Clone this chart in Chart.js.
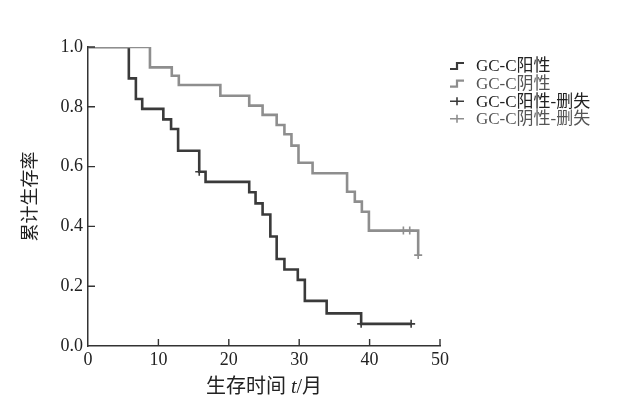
<!DOCTYPE html>
<html><head><meta charset="utf-8">
<script src="https://cdn.jsdelivr.net/npm/chart.js@4"></script>
<style>html,body{margin:0;padding:0;background:#fff}#wrap{width:632px;height:405px;position:relative}</style>
</head><body><div id="wrap"><canvas id="c" width="632" height="405" style="width:632px;height:405px"></canvas></div>
<script>
const positiveTimes    = [0, 5.8, 6.8, 7.7, 10.7, 11.8, 12.8, 15.8, 16.7, 22.9, 23.8, 24.8, 25.9, 26.8, 27.9, 29.8, 30.8, 33.9, 38.8, 45.9];
const positiveSurvival = [1.0, 0.895, 0.826, 0.793, 0.758, 0.726, 0.653, 0.583, 0.549, 0.514, 0.477, 0.44, 0.366, 0.291, 0.256, 0.221, 0.151, 0.109, 0.074, 0.074];
const negativeTimes    = [0, 8.8, 11.9, 12.9, 18.8, 22.9, 24.8, 26.8, 27.9, 28.9, 29.9, 31.9, 36.8, 37.9, 38.9, 39.9, 46.9];
const negativeSurvival = [1.0, 0.932, 0.904, 0.873, 0.837, 0.804, 0.773, 0.739, 0.708, 0.67, 0.613, 0.578, 0.516, 0.483, 0.449, 0.386, 0.304];
const positiveCensorTimes    = [15.8, 38.8, 45.9];
const positiveCensorSurvival = [0.583, 0.074, 0.074];
const negativeCensorTimes    = [44.8, 45.7, 46.9];
const negativeCensorSurvival = [0.386, 0.386, 0.304];
const seriesLabels = ['GC-C阳性', 'GC-C阴性', 'GC-C阳性-删失', 'GC-C阴性-删失'];
const xTickValues = [0, 10, 20, 30, 40, 50];
const yTickValues = [0, 0.2, 0.4, 0.6, 0.8, 1.0];
const yTitle = '累计生存率';
const xTitleParts = ['生存时间 ', 't', '/月'];

const DARK = '#3a3a3a', LIGHT = '#8e8e8e';
const FONT = "'Liberation Serif', 'Noto Sans CJK SC', serif";
const pts = (xs, ys) => xs.map((x, i) => ({x: x, y: ys[i]}));

const innerTicksPlugin = {
  id: 'innerTicks',
  afterDraw(chart) {
    const ctx = chart.ctx, xs = chart.scales.x, ys = chart.scales.y;
    const area = chart.chartArea;
    ctx.save();
    ctx.strokeStyle = '#333';
    ctx.lineWidth = 1.4;
    ctx.beginPath();
    xs.ticks.forEach(t => {
      const px = xs.getPixelForValue(t.value);
      if (t.value === xs.min) return;
      ctx.moveTo(px, area.bottom); ctx.lineTo(px, area.bottom - 7);
    });
    ys.ticks.forEach(t => {
      const py = ys.getPixelForValue(t.value);
      if (t.value === ys.min) return;
      ctx.moveTo(area.left, py); ctx.lineTo(area.left + 7, py);
    });
    ctx.stroke();
    ctx.restore();
  }
};

const legendPlugin = {
  id: 'kmLegend',
  afterDraw(chart) {
    const ctx = chart.ctx;
    const x0 = 450, y0 = 66, dy = 17.6;
    const kinds = ['step', 'step', 'cross', 'cross'];
    const colors = [DARK, LIGHT, DARK, LIGHT];
    ctx.save();
    ctx.font = '17px ' + FONT;
    ctx.textBaseline = 'middle';
    seriesLabels.forEach((lab, i) => {
      const y = y0 + i * dy;
      ctx.strokeStyle = colors[i];
      ctx.lineWidth = 2.2;
      ctx.beginPath();
      if (kinds[i] === 'step') {
        ctx.moveTo(x0, y + 3); ctx.lineTo(x0 + 7, y + 3);
        ctx.lineTo(x0 + 7, y - 3); ctx.lineTo(x0 + 14, y - 3);
      } else {
        ctx.lineWidth = 1.6;
        ctx.moveTo(x0, y); ctx.lineTo(x0 + 14, y);
        ctx.moveTo(x0 + 7, y - 4); ctx.lineTo(x0 + 7, y + 4);
      }
      ctx.stroke();
      ctx.fillStyle = colors[i] === DARK ? '#222' : '#555';
      ctx.fillText(lab, x0 + 26, y + 1);
    });
    const cx = 264, cy = 388;
    const fonts = ['20px ' + FONT, 'italic 20px ' + FONT, '20px ' + FONT];
    let widths = xTitleParts.map((t, i) => { ctx.font = fonts[i]; return ctx.measureText(t).width; });
    let total = widths.reduce((a, b) => a + b, 0);
    let x = cx - total / 2;
    ctx.fillStyle = '#222';
    ctx.textAlign = 'left';
    xTitleParts.forEach((t, i) => { ctx.font = fonts[i]; ctx.fillText(t, x, cy); x += widths[i]; });
    ctx.restore();
  }
};

new Chart(document.getElementById('c'), {
  type: 'line',
  data: {
    datasets: [
      {label: seriesLabels[0], data: pts(positiveTimes, positiveSurvival), borderColor: DARK, borderWidth: 2.6,
       stepped: 'before', pointRadius: 0, fill: false, order: 2},
      {label: seriesLabels[1], data: pts(negativeTimes, negativeSurvival), borderColor: LIGHT, borderWidth: 2.6,
       stepped: 'before', pointRadius: 0, fill: false, order: 1},
      {label: seriesLabels[2], type: 'scatter', data: pts(positiveCensorTimes, positiveCensorSurvival), showLine: false,
       pointStyle: 'cross', pointRadius: 4, borderColor: DARK, borderWidth: 1.6, order: 0},
      {label: seriesLabels[3], type: 'scatter', data: pts(negativeCensorTimes, negativeCensorSurvival), showLine: false,
       pointStyle: 'cross', pointRadius: 4, borderColor: LIGHT, borderWidth: 1.6, order: 0}
    ]
  },
  options: {
    responsive: false,
    maintainAspectRatio: false,
    animation: false,
    devicePixelRatio: 1,
    layout: {padding: {left: 0, right: 192, top: 47, bottom: 0}},
    plugins: {legend: {display: false}, tooltip: {enabled: false}},
    scales: {
      x: {
        type: 'linear', min: 0, max: 50,
        afterBuildTicks: s => { s.ticks = xTickValues.map(v => ({value: v})); },
        afterFit: s => { s.height = 59; },
        ticks: {color: '#222', font: {family: FONT, size: 18}, padding: 3, maxRotation: 0},
        grid: {drawOnChartArea: false, drawTicks: false},
        border: {display: true, color: '#333', width: 1.5}
      },
      y: {
        type: 'linear', min: 0, max: 1,
        afterBuildTicks: s => { s.ticks = yTickValues.map(v => ({value: v})); },
        afterFit: s => { s.width = 88; },
        ticks: {color: '#222', font: {family: FONT, size: 18}, padding: 5, callback: v => v.toFixed(1)},
        grid: {drawOnChartArea: false, drawTicks: false},
        border: {display: true, color: '#333', width: 1.5},
        title: {display: true, text: yTitle, color: '#222', font: {family: FONT, size: 18}, padding: {top: 20, bottom: 0}}
      }
    }
  },
  plugins: [innerTicksPlugin, legendPlugin]
});
</script>
</body></html>
